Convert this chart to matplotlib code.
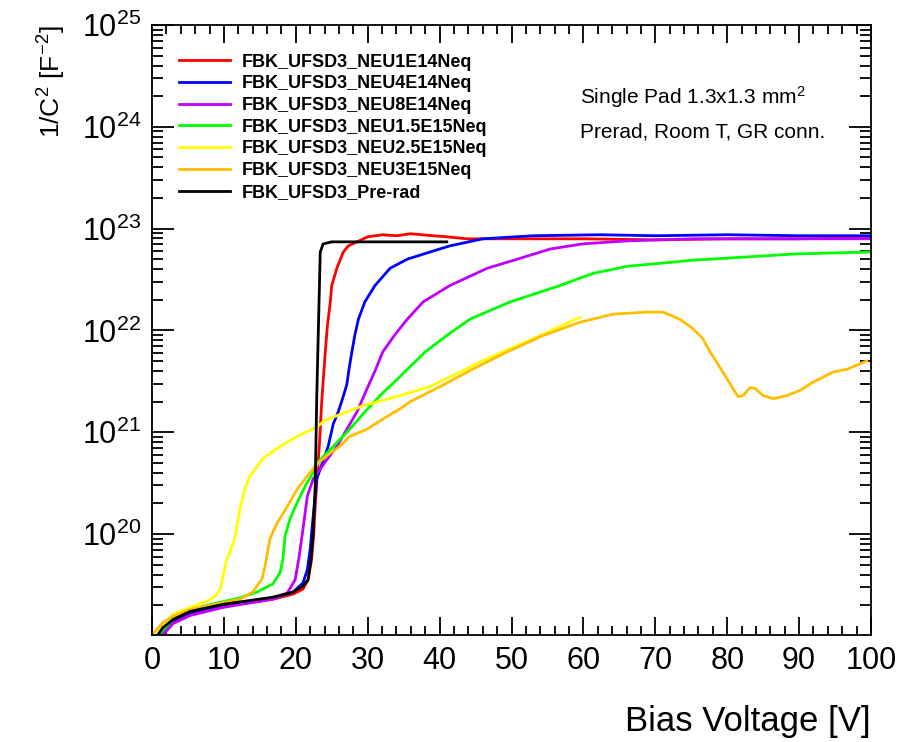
import numpy as np
import matplotlib
matplotlib.use('Agg')
from matplotlib import pyplot as plt
from matplotlib.ticker import FixedLocator, LogLocator, MultipleLocator, NullFormatter

plt.rcParams['font.family'] = 'Liberation Sans'
plt.rcParams['mathtext.fontset'] = 'custom'
plt.rcParams['mathtext.rm'] = 'Liberation Sans'
plt.rcParams['mathtext.it'] = 'Liberation Sans:italic'
plt.rcParams['mathtext.bf'] = 'Liberation Sans:bold'

# bias voltage [V] and log10(1/C^2)
v_1e14 = [1.0, 2.9, 5.3, 9.9, 16.8, 19.6, 21.0, 21.7, 22.2, 22.5, 22.7, 23.0, 23.3, 23.6, 24.1, 24.4, 24.8, 25.0,
          25.7, 26.6, 27.3, 28.5, 30.0, 32.1, 34.0, 36.0, 39.1, 41.0, 43.8, 50.0, 60.0, 70.0, 80.0, 90.0, 100.0]
l_1e14 = [19.0, 19.14, 19.22, 19.29, 19.36, 19.41, 19.46, 19.55, 19.75, 20.0, 20.27, 20.6, 20.9, 21.3, 21.79, 22.05,
          22.28, 22.44, 22.61, 22.77, 22.83, 22.87, 22.92, 22.94, 22.93, 22.95, 22.93, 22.92, 22.90, 22.90, 22.90,
          22.89, 22.90, 22.90, 22.91]

v_4e14 = [0.9, 2.9, 5.3, 9.9, 16.8, 19.6, 21.0, 21.6, 22.0, 22.25, 22.9, 24.5, 25.2, 25.9, 26.5, 27.1, 27.4, 27.8,
          28.2, 28.7, 29.6, 31.0, 33.1, 35.5, 39.1, 41.4, 46.0, 53.0, 62.3, 70.0, 80.0, 90.0, 100.0]
l_4e14 = [19.0, 19.15, 19.23, 19.30, 19.37, 19.43, 19.52, 19.65, 19.85, 20.05, 20.54, 20.86, 21.08, 21.20, 21.33,
          21.47, 21.62, 21.79, 21.95, 22.11, 22.28, 22.44, 22.61, 22.70, 22.78, 22.83, 22.90, 22.93, 22.94, 22.93,
          22.94, 22.93, 22.93]

v_8e14 = [1.4, 2.9, 5.3, 9.9, 16.8, 18.8, 19.9, 20.4, 21.0, 21.6, 22.4, 24.1, 25.7, 27.1, 28.5, 29.8, 31.0, 32.1,
          33.8, 35.5, 37.7, 41.4, 46.6, 50.8, 55.4, 59.9, 66.1, 75.2, 85.0, 100.0]
l_8e14 = [19.0, 19.12, 19.20, 19.28, 19.36, 19.42, 19.55, 19.75, 20.05, 20.37, 20.54, 20.71, 20.86, 21.03, 21.20,
          21.41, 21.60, 21.79, 21.96, 22.11, 22.28, 22.44, 22.61, 22.70, 22.80, 22.85, 22.88, 22.90, 22.90, 22.90]

v_15e15 = [0.8, 2.9, 5.3, 7.6, 12.0, 14.6, 16.8, 17.8, 18.2, 18.5, 19.2, 20.2, 21.3, 22.7, 23.1, 25.2, 27.5, 29.6,
           32.0, 34.1, 38.0, 41.0, 44.2, 49.8, 56.7, 61.3, 66.1, 70.7, 75.2, 80.0, 84.6, 89.2, 93.9, 100.0]
l_15e15 = [19.0, 19.16, 19.25, 19.30, 19.37, 19.43, 19.51, 19.62, 19.75, 19.98, 20.15, 20.31, 20.47, 20.64, 20.71,
           20.86, 21.03, 21.20, 21.38, 21.52, 21.79, 21.95, 22.11, 22.28, 22.44, 22.56, 22.63, 22.66, 22.69, 22.71,
           22.73, 22.75, 22.76, 22.77]

v_25e15 = [0.0, 2.9, 5.3, 7.6, 8.8, 9.5, 9.9, 10.4, 10.8, 11.5, 12.2, 12.9, 13.6, 14.6, 15.4, 16.8, 17.8, 20.2,
           22.9, 24.1, 27.5, 29.3, 34.5, 38.7, 42.8, 45.6, 48.8, 54.0, 59.5]
l_25e15 = [19.01, 19.21, 19.28, 19.34, 19.39, 19.46, 19.60, 19.75, 19.82, 19.95, 20.24, 20.44, 20.57, 20.66, 20.74,
           20.81, 20.86, 20.96, 21.05, 21.12, 21.21, 21.26, 21.36, 21.45, 21.59, 21.69, 21.79, 21.95, 22.13]

v_3e15 = [0.0, 1.5, 2.9, 5.3, 12.2, 14.0, 15.3, 15.7, 16.4, 16.8, 17.5, 18.8, 20.2, 21.6, 22.7, 24.3, 26.1, 27.5,
          29.9, 32.1, 34.5, 35.9, 40.1, 44.6, 49.4, 54.4, 59.5, 64.1, 68.8, 71.1, 73.4, 75.2, 76.6, 77.6, 78.0,
          79.4, 80.8, 81.5, 82.2, 83.2, 83.9, 85.0, 86.4, 88.3, 90.1, 91.9, 94.7, 96.7, 99.4]
l_3e15 = [19.01, 19.13, 19.19, 19.26, 19.36, 19.43, 19.56, 19.68, 19.95, 20.02, 20.12, 20.27, 20.44, 20.57, 20.67,
          20.77, 20.86, 20.96, 21.03, 21.13, 21.23, 21.30, 21.45, 21.62, 21.79, 21.95, 22.08, 22.16, 22.18, 22.18,
          22.11, 22.02, 21.92, 21.79, 21.75, 21.59, 21.43, 21.35, 21.36, 21.44, 21.43, 21.36, 21.33, 21.36, 21.41,
          21.49, 21.59, 21.62, 21.70]

v_prerad = [0.7, 1.5, 2.9, 5.3, 9.9, 16.8, 19.6, 21.0, 21.7, 22.1, 22.4, 22.7, 22.9, 23.1, 23.4, 23.8, 25.0, 41.0]
l_prerad = [19.0, 19.08, 19.16, 19.24, 19.31, 19.38, 19.43, 19.49, 19.55, 19.75, 20.0, 20.47, 21.3, 21.9, 22.77,
            22.85, 22.87, 22.87]

series = [
    ('FBK_UFSD3_NEU1E14Neq', v_1e14, l_1e14, '#FF0000'),
    ('FBK_UFSD3_NEU4E14Neq', v_4e14, l_4e14, '#0000FF'),
    ('FBK_UFSD3_NEU8E14Neq', v_8e14, l_8e14, '#BF00FF'),
    ('FBK_UFSD3_NEU1.5E15Neq', v_15e15, l_15e15, '#00FF00'),
    ('FBK_UFSD3_NEU2.5E15Neq', v_25e15, l_25e15, '#FFFF00'),
    ('FBK_UFSD3_NEU3E15Neq', v_3e15, l_3e15, '#FFBF00'),
    ('FBK_UFSD3_Pre-rad', v_prerad, l_prerad, '#000000'),
]

fig = plt.figure(figsize=(9.13, 7.42), dpi=100)
ax = fig.add_axes([0.1665, 0.1442, 0.7875, 0.8221])

for name, v, l, c in series:
    ax.plot(v, 10 ** np.array(l), color=c, lw=2, label=name)

ax.set_yscale('log')
ax.set_xlim(0, 100)
ax.set_ylim(1.02e19, 1e25)

ax.xaxis.set_major_locator(MultipleLocator(10))
ax.xaxis.set_minor_locator(MultipleLocator(2))
ax.yaxis.set_major_locator(FixedLocator([1e20, 1e21, 1e22, 1e23, 1e24, 1e25]))
ax.yaxis.set_minor_locator(LogLocator(base=10, subs=np.arange(2, 10)))
ax.yaxis.set_minor_formatter(NullFormatter())
ax.set_yticklabels(['$10^{20}$', '$10^{21}$', '$10^{22}$', '$10^{23}$', '$10^{24}$', '$10^{25}$'])

ax.tick_params(which='both', direction='in', top=True, right=True, width=1.3)
ax.tick_params(axis='x', which='major', length=13, labelsize=22, pad=8)
ax.tick_params(axis='x', which='minor', length=6.5)
ax.tick_params(axis='y', which='major', length=16, labelsize=22, pad=8)
ax.tick_params(axis='y', which='minor', length=8)
for s in ax.spines.values():
    s.set_linewidth(1.3)

ax.set_xlabel('Bias Voltage [V]', fontsize=25, loc='right', labelpad=21)
ax.set_ylabel('1/C$^2$ [F$^{-2}$]', fontsize=19, loc='top', labelpad=10)

ax.legend(loc='upper left', bbox_to_anchor=(0.0376, 0.953), frameon=False, borderpad=0, borderaxespad=0,
          prop={'weight': 'bold', 'size': 13}, handlelength=2.8, handletextpad=0.65, labelspacing=0.26)

ax.text(0.595, 0.882, 'Single Pad 1.3x1.3 mm$^2$', transform=ax.transAxes, fontsize=15, va='center')
ax.text(0.595, 0.825, 'Prerad, Room T, GR conn.', transform=ax.transAxes, fontsize=15, va='center')

fig.savefig('out.png', dpi=100)
